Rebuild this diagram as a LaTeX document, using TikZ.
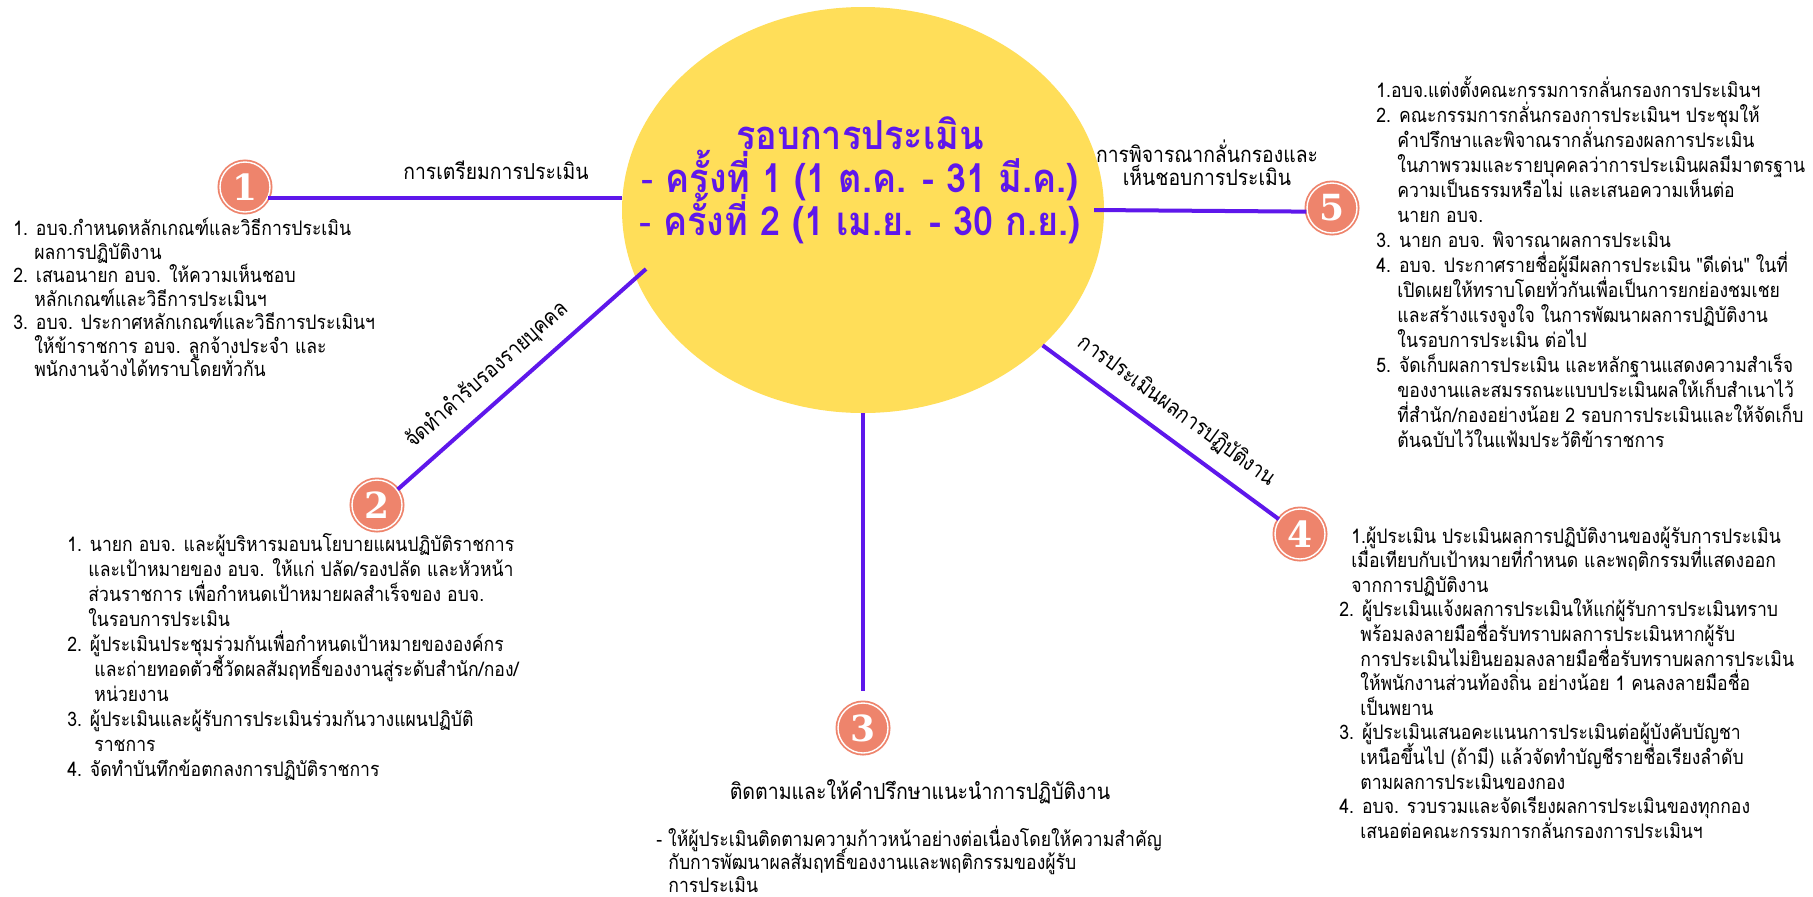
\documentclass[tikz,border=0pt]{standalone}
\usepackage{fontspec}
\usepackage{xcolor}
\usepackage{tikz}
\usetikzlibrary{positioning}
\usetikzlibrary{shapes.geometric}
\newfontfamily\thaifont[Script=Thai,FakeStretch=0.88]{Loma}
\newfontfamily\titlefont[Script=Thai,FakeStretch=0.9]{Loma}
\newfontfamily\badgefont{DejaVu Serif}
\definecolor{roundyellow}{HTML}{FFDE59}
\definecolor{linkpurple}{HTML}{5E17EB}
\definecolor{badgesalmon}{HTML}{EE846C}
\newcommand\cont{\hspace*{1.05em}}
\setlength{\lineskiplimit}{-20pt}

\begin{document}
\begin{tikzpicture}[x=0.5pt,y=-0.5pt,
badge/.style={circle,
fill=badgesalmon,draw=badgesalmon,double=white,double distance=0.7pt,line width=0.9pt,
minimum size=25pt,inner sep=0pt,text=white,
font=\badgefont\bfseries\fontsize{18}{18}\selectfont},
link/.style={draw=linkpurple,line width=2pt},
steps/.style={align=left,anchor=north west,inner sep=0pt,
font=\thaifont\fontsize{10}{#1}\selectfont},
steps/.default=12,
tag/.style={font=\thaifont\fontsize{11}{11.5}\selectfont,inner sep=1pt}]
\fill[white] (0,0) rectangle (1813,896);
\useasboundingbox (0,0) rectangle (1813,896);

%round
\node[ellipse,
fill=roundyellow,
minimum width=241pt,minimum height=203pt,
inner sep=0pt,outer sep=0pt] (el) at (863,210) {};
\node[align=center,text=linkpurple,
font=\titlefont\bfseries\fontsize{20}{21.5}\selectfont] (title) at (860,180)
{รอบการประเมิน\\{\mdseries -} ครั้งที่ 1 (1 ต.ค. - 31 มี.ค.)\\{\mdseries -} ครั้งที่ 2 (1 เม.ย. - 30 ก.ย.)};

%badges
\foreach \n/\x/\y in {1/245/187,2/377/505,3/863/728,4/1300/534,5/1332/208}{%
\node[badge] (b\n) at (\x,\y) {\n};%
}

%----------1
\draw[link] (b1.-25) -- (b1.-25 -| el.west);
\node[tag] (l1) at (496,170) {การเตรียมการประเมิน};
\node[steps=11.75] (t1) at (13,218) {1. อบจ.กำหนดหลักเกณฑ์และวิธีการประเมิน\\
\cont ผลการปฏิบัติงาน\\
2. เสนอนายก อบจ. ให้ความเห็นชอบ\\
\cont หลักเกณฑ์และวิธีการประเมินฯ\\
3. อบจ. ประกาศหลักเกณฑ์และวิธีการประเมินฯ\\
\cont ให้ข้าราชการ อบจ. ลูกจ้างประจำ และ\\
\cont พนักงานจ้างได้ทราบโดยทั่วกัน};

%----------2
\coordinate (e2) at (646,269);
\draw[link] (b2.37) -- node[tag,pos=0.43,above=5pt,sloped] (l2) {จัดทำคำรับรองรายบุคคล} (e2);
\node[steps=12.5] (t2) at (67,533) {1. นายก อบจ. และผู้บริหารมอบนโยบายแผนปฏิบัติราชการ\\
\cont และเป้าหมายของ อบจ. ให้แก่ ปลัด/รองปลัด และหัวหน้า\\
\cont ส่วนราชการ เพื่อกำหนดเป้าหมายผลสำเร็จของ อบจ.\\
\cont ในรอบการประเมิน\\
2. ผู้ประเมินประชุมร่วมกันเพื่อกำหนดเป้าหมายขององค์กร\\
\cont\hspace*{3pt}และถ่ายทอดตัวชี้วัดผลสัมฤทธิ์ของงานสู่ระดับสำนัก/กอง/\\
\cont\hspace*{3pt}หน่วยงาน\\
3. ผู้ประเมินและผู้รับการประเมินร่วมกันวางแผนปฏิบัติ\\
\cont\hspace*{3pt}ราชการ\\
4. จัดทำบันทึกข้อตกลงการปฏิบัติราชการ};

%----------3
\coordinate (e3) at (860,691);
\draw[link] (el.south) -- (el.south |- e3);
\node[tag,font=\thaifont\fontsize{11.1}{12}\selectfont] (l3) at (920,792) {ติดตามและให้คำปรึกษาแนะนำการปฏิบัติงาน};
\node[steps=11.5] (t3) at (656,826) {- ให้ผู้ประเมินติดตามความก้าวหน้าอย่างต่อเนื่องโดยให้ความสำคัญ\\
\hspace*{0.6em}กับการพัฒนาผลสัมฤทธิ์ของงานและพฤติกรรมของผู้รับ\\
\hspace*{0.6em}การประเมิน};

%----------4
\draw[link] (el.-37) -- node[tag,pos=0.5,above=6pt,sloped] (l4) {การประเมินผลการปฏิบัติงาน} (b4.145);
\node[steps=12.3] (t4) at (1339,526) {\hspace*{6pt}1.ผู้ประเมิน ประเมินผลการปฏิบัติงานของผู้รับการประเมิน\\
\hspace*{6pt}เมื่อเทียบกับเป้าหมายที่กำหนด และพฤติกรรมที่แสดงออก\\
\hspace*{6pt}จากการปฏิบัติงาน\\
2. ผู้ประเมินแจ้งผลการประเมินให้แก่ผู้รับการประเมินทราบ\\
\cont พร้อมลงลายมือชื่อรับทราบผลการประเมินหากผู้รับ\\
\cont การประเมินไม่ยินยอมลงลายมือชื่อรับทราบผลการประเมิน\\
\cont ให้พนักงานส่วนท้องถิ่น อย่างน้อย 1 คนลงลายมือชื่อ\\
\cont เป็นพยาน\\
3. ผู้ประเมินเสนอคะแนนการประเมินต่อผู้บังคับบัญชา\\
\cont เหนือขึ้นไป (ถ้ามี) แล้วจัดทำบัญชีรายชื่อเรียงลำดับ\\
\cont ตามผลการประเมินของกอง\\
4. อบจ. รวบรวมและจัดเรียงผลการประเมินของทุกกอง\\
\cont เสนอต่อคณะกรรมการกลั่นกรองการประเมินฯ};

%----------5
\draw[link] ([xshift=-5pt]el.east) -- (b5.188);
\node[tag,align=center] (l5) at (1207,163) {การพิจารณากลั่นกรองและ\\เห็นชอบการประเมิน};
\node[steps=12.5] (t5) at (1376,76) {1.อบจ.แต่งตั้งคณะกรรมการกลั่นกรองการประเมินฯ\\
2. คณะกรรมการกลั่นกรองการประเมินฯ ประชุมให้\\
\cont คำปรึกษาและพิจาณรากลั่นกรองผลการประเมิน\\
\cont ในภาพรวมและรายบุคคลว่าการประเมินผลมีมาตรฐาน\\
\cont ความเป็นธรรมหรือไม่ และเสนอความเห็นต่อ\\
\cont นายก อบจ.\\
3. นายก อบจ. พิจารณาผลการประเมิน\\
4. อบจ. ประกาศรายชื่อผู้มีผลการประเมิน "ดีเด่น" ในที่\\
\cont เปิดเผยให้ทราบโดยทั่วกันเพื่อเป็นการยกย่องชมเชย\\
\cont และสร้างแรงจูงใจ ในการพัฒนาผลการปฏิบัติงาน\\
\cont ในรอบการประเมิน ต่อไป\\
5. จัดเก็บผลการประเมิน และหลักฐานแสดงความสำเร็จ\\
\cont ของงานและสมรรถนะแบบประเมินผลให้เก็บสำเนาไว้\\
\cont ที่สำนัก/กองอย่างน้อย 2 รอบการประเมินและให้จัดเก็บ\\
\cont ต้นฉบับไว้ในแฟ้มประวัติข้าราชการ};

\end{tikzpicture}
\end{document}
